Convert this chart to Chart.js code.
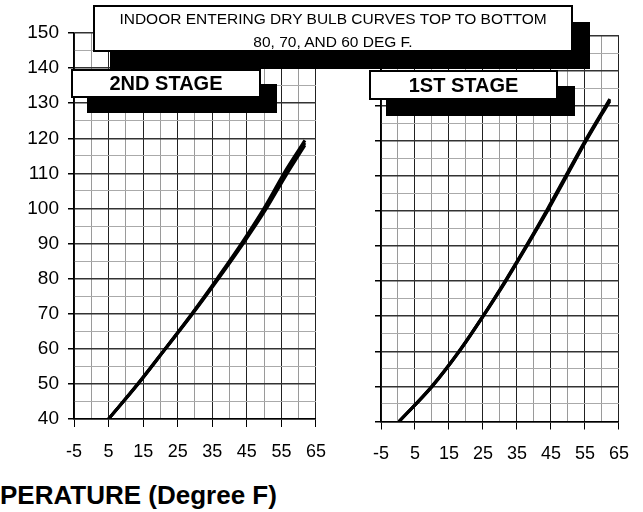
<!DOCTYPE html>
<html>
<head>
<meta charset="utf-8">
<script src="https://cdn.jsdelivr.net/npm/chart.js@4.4.0/dist/chart.umd.min.js"></script>
<style>
    body { margin: 0; background: #fff; }
    #lienzo { position: relative; width: 643px; height: 512px; overflow: hidden; font-family: "Liberation Sans", Arial, sans-serif; color: #000; }
    #lienzo canvas { position: absolute; top: 0; }
    .caja { position: absolute; background: #fff; border: 2px solid #000; box-sizing: border-box; text-align: center; white-space: nowrap; }
    #titulo { left: 93px; top: 5px; width: 480px; height: 47px; font-size: 15.5px; line-height: 23px; box-shadow: 17px 17px 0 #000; }
    #etapa2 { left: 71px; top: 69px; width: 190px; height: 29px; font-size: 20px; font-weight: bold; line-height: 25px; box-shadow: 16px 15px 0 #000; }
    #etapa1 { left: 369px; top: 70px; width: 189px; height: 30px; font-size: 20px; font-weight: bold; line-height: 26px; box-shadow: 17px 16px 0 #000; }
    #ejeX { position: absolute; left: 0; top: 482px; font-size: 26px; font-weight: bold; line-height: 26px; white-space: nowrap; }
</style>
</head>
<body>
<div id="lienzo">
    <canvas id="chart2" width="340" height="480" style="left:0px"></canvas>
    <canvas id="chart1" width="313" height="480" style="left:330px"></canvas>
    <div class="caja" id="titulo">INDOOR ENTERING DRY BULB CURVES TOP TO BOTTOM<br>80, 70, AND 60 DEG F.</div>
    <div class="caja" id="etapa2">2ND STAGE</div>
    <div class="caja" id="etapa1">1ST STAGE</div>
    <div id="ejeX">PERATURE (Degree F)</div>
</div>
<script>
// tick labels
var tempLabels = [-5, 5, 15, 25, 35, 45, 55, 65];
var capLabels = [40, 50, 60, 70, 80, 90, 100, 110, 120, 130, 140, 150];

// 2nd stage: outdoor temp (x) and the three indoor curves (80, 70, 60 deg F)
var stage2Temp = [5, 13.5, 21.4, 29.2, 36.6, 43.7, 50.3, 56.2, 61.8];
var stage2Cap80 = [40, 50.1, 60.1, 70.2, 80.3, 90.4, 100.6, 110.8, 119.4];
var stage2Cap70 = [40, 50, 60, 70, 80, 90, 100, 110, 118.7];
var stage2Cap60 = [40, 49.9, 59.9, 69.8, 79.7, 89.6, 99.4, 109.2, 118];

// 1st stage
var stage1Temp = [0.3, 10, 18, 25, 31.6, 37.8, 43.8, 49.5, 55.2, 62.3];
var stage1Cap80 = [40, 50.1, 60.1, 70.1, 80.2, 90.2, 100.3, 110.3, 120.3, 131.9];
var stage1Cap70 = [40, 50, 60, 70, 80, 90, 100, 110, 120, 131.6];
var stage1Cap60 = [40, 49.9, 59.9, 69.9, 79.8, 89.8, 99.7, 109.7, 119.7, 131.3];

var grafica = {
    init: function () {
        Chart.defaults.font.family = '"Liberation Sans", Arial, sans-serif';
        Chart.defaults.color = '#000';
        grafica.crearChart('chart2', stage2Temp, [stage2Cap80, stage2Cap70, stage2Cap60],
            {top: 33, right: 18, ejeY: 74, ejeX: 61, etiquetas: true});
        grafica.crearChart('chart1', stage1Temp, [stage1Cap80, stage1Cap70, stage1Cap60],
            {top: 35.5, right: 20, ejeY: 51, ejeX: 58.5, etiquetas: false});
    },
    puntos: function (xs, ys) {
        var data = [];
        for (var i = 0; i < xs.length; i++) {
            data.push({x: xs[i], y: ys[i]});
        }
        return data;
    },
    esMayorX: function (v) {
        return tempLabels.indexOf(v) !== -1;
    },
    esMayorY: function (v) {
        return capLabels.indexOf(v) !== -1;
    },
    crearChart: function (idChart, temps, series, conf) {
        var datasets = [];
        for (var s = 0; s < series.length; s++) {
            datasets.push({
                data: grafica.puntos(temps, series[s]),
                showLine: true,
                borderColor: '#000',
                borderWidth: 3,
                pointRadius: 0,
                cubicInterpolationMode: 'monotone'
            });
        }
        var ctx = document.getElementById(idChart).getContext('2d');
        new Chart(ctx, {
            type: 'scatter',
            data: {datasets: datasets},
            options: {
                responsive: false,
                animation: false,
                layout: {padding: {top: conf.top, right: conf.right, left: 0, bottom: 0}},
                plugins: {legend: {display: false}, tooltip: {enabled: false}},
                scales: {
                    x: {
                        type: 'linear', min: -5, max: 65,
                        afterFit: function (scale) { scale.height = conf.ejeX; },
                        border: {color: '#000', width: 1.5},
                        grid: {
                            tickLength: 8,
                            color: function (c) { return grafica.esMayorX(c.tick.value) ? '#222' : '#9a9a9a'; },
                            tickColor: function (c) { return grafica.esMayorX(c.tick.value) ? '#000' : 'rgba(0,0,0,0)'; }
                        },
                        ticks: {
                            stepSize: 5, autoSkip: false, maxRotation: 0, padding: 14,
                            font: {size: 18},
                            callback: function (v) { return grafica.esMayorX(v) ? String(v) : ''; }
                        }
                    },
                    y: {
                        type: 'linear', min: 40, max: 150,
                        afterFit: function (scale) { scale.width = conf.ejeY; },
                        border: {color: '#000', width: 1.5},
                        grid: {
                            tickLength: 6,
                            color: function (c) { return grafica.esMayorY(c.tick.value) ? '#333' : '#aaa'; },
                            lineWidth: function (c) { return grafica.esMayorY(c.tick.value) ? 1.5 : 1; },
                            tickColor: function (c) { return grafica.esMayorY(c.tick.value) ? '#000' : 'rgba(0,0,0,0)'; }
                        },
                        ticks: {
                            stepSize: 5, autoSkip: false, padding: 9,
                            font: {size: 19},
                            callback: function (v) { return (conf.etiquetas && grafica.esMayorY(v)) ? String(v) : ''; }
                        }
                    }
                }
            }
        });
    }
};
grafica.init();
</script>
</body>
</html>
